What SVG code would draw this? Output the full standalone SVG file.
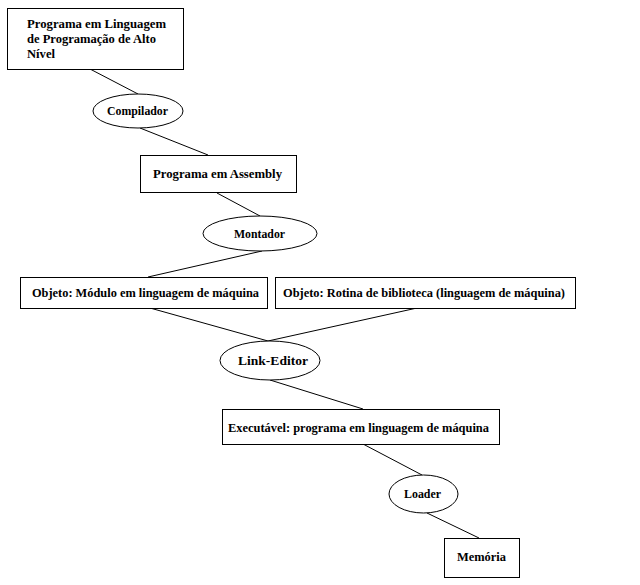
<svg xmlns="http://www.w3.org/2000/svg" width="640" height="585" viewBox="0 0 640 585">
<style>
.box{fill:#fff;stroke:#000;stroke-width:1}
.ell{fill:#fff;stroke:#000;stroke-width:1}
.con line{stroke:#000;stroke-width:1}
text{font-family:"Liberation Serif","Times New Roman",serif;font-weight:bold;font-size:12.6px;fill:#000}
.c{text-anchor:middle}
</style>
<rect width="640" height="585" fill="#fff"/>
<g id="connectors" class="con">
<line x1="90" y1="69" x2="138" y2="94"/>
<line x1="140" y1="128" x2="208" y2="155"/>
<line x1="217" y1="193" x2="260" y2="216"/>
<line x1="262" y1="251" x2="148" y2="277"/>
<line x1="150" y1="308" x2="268" y2="341"/>
<line x1="417" y1="308" x2="268" y2="341"/>
<line x1="270" y1="380" x2="363" y2="409"/>
<line x1="363" y1="444" x2="422" y2="475"/>
<line x1="427" y1="513" x2="479" y2="538"/>
</g>
<g id="n1">
<rect class="box" x="7.5" y="8.5" width="176" height="61"/>
<text x="27" y="28" textLength="139" lengthAdjust="spacingAndGlyphs">Programa em Linguagem</text>
<text x="27" y="43" textLength="129" lengthAdjust="spacingAndGlyphs">de Programação de Alto</text>
<text x="27" y="58">Nível</text>
</g>
<g id="n2">
<ellipse class="ell" cx="138" cy="111" rx="45" ry="17"/>
<text class="c" x="137.5" y="115" textLength="61" lengthAdjust="spacingAndGlyphs">Compilador</text>
</g>
<g id="n3">
<rect class="box" x="140.5" y="155.5" width="156" height="37"/>
<text class="c" x="217.5" y="178" textLength="129" lengthAdjust="spacingAndGlyphs">Programa em Assembly</text>
</g>
<g id="n4">
<ellipse class="ell" cx="260" cy="233.5" rx="57" ry="17.5"/>
<text class="c" x="259.5" y="238" textLength="51" lengthAdjust="spacingAndGlyphs">Montador</text>
</g>
<g id="n5">
<rect class="box" x="20.5" y="277.5" width="247" height="31"/>
<text class="c" x="145.5" y="297" textLength="227" lengthAdjust="spacingAndGlyphs">Objeto: Módulo em linguagem de máquina</text>
</g>
<g id="n6">
<rect class="box" x="275.5" y="277.5" width="300" height="31"/>
<text class="c" x="424" y="297" textLength="282" lengthAdjust="spacingAndGlyphs">Objeto: Rotina de biblioteca (linguagem de máquina)</text>
</g>
<g id="n7">
<ellipse class="ell" cx="270" cy="360.5" rx="50" ry="19.5"/>
<text class="c" x="273" y="365" textLength="70" lengthAdjust="spacingAndGlyphs">Link-Editor</text>
</g>
<g id="n8">
<rect class="box" x="222.5" y="409.5" width="277" height="35"/>
<text class="c" x="358.5" y="432" textLength="261" lengthAdjust="spacingAndGlyphs">Executável: programa em linguagem de máquina</text>
</g>
<g id="n9">
<ellipse class="ell" cx="423.5" cy="494" rx="34.5" ry="19"/>
<text class="c" x="422.5" y="498" textLength="37" lengthAdjust="spacingAndGlyphs">Loader</text>
</g>
<g id="n10">
<rect class="box" x="444.5" y="538.5" width="75" height="39"/>
<text class="c" x="481.5" y="561" textLength="49" lengthAdjust="spacingAndGlyphs">Memória</text>
</g>
</svg>
